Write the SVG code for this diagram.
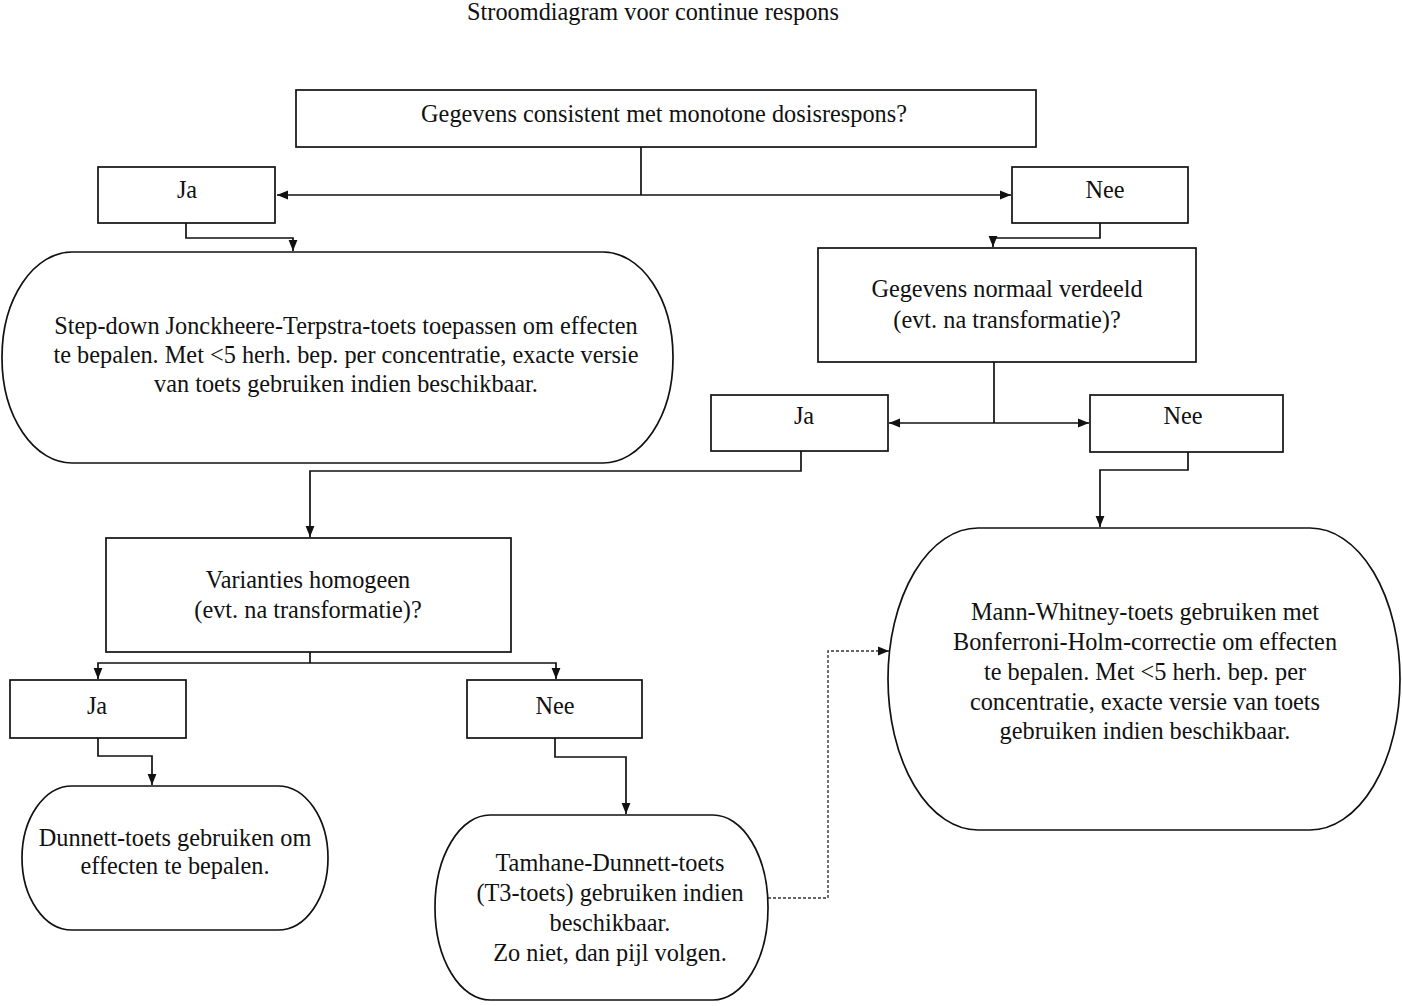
<svg xmlns="http://www.w3.org/2000/svg" width="1402" height="1006" viewBox="0 0 1402 1006">
<style>
text{font-family:"Liberation Serif","Times New Roman",serif;font-size:24.3px;fill:#111;text-anchor:middle}
.box{fill:#fff;stroke:#111;stroke-width:1.7}
.c{fill:none;stroke:#111;stroke-width:1.7}
.d{fill:none;stroke:#333;stroke-width:1.4;stroke-dasharray:3 2}
</style>
<defs>
<marker id="a" viewBox="0 0 10 10" refX="10" refY="5" markerWidth="11" markerHeight="11" markerUnits="userSpaceOnUse" orient="auto">
<path d="M0,1 L10,5 L0,9 z" fill="#111"/>
</marker>
</defs>
<rect width="1402" height="1006" fill="#fff"/>
<text x="653" y="20">Stroomdiagram voor continue respons</text>
<g id="connectors">
<path class="c" d="M641,147 V195"/>
<path class="c" d="M641,195 H277" marker-end="url(#a)"/>
<path class="c" d="M641,195 H1011" marker-end="url(#a)"/>
<path class="c" d="M186,223 V238 H293 V251" marker-end="url(#a)"/>
<path class="c" d="M1100,223 V238 H993 V247" marker-end="url(#a)"/>
<path class="c" d="M994,362 V423"/>
<path class="c" d="M994,423 H889" marker-end="url(#a)"/>
<path class="c" d="M994,423 H1089" marker-end="url(#a)"/>
<path class="c" d="M801,451 V471 H310 V537" marker-end="url(#a)"/>
<path class="c" d="M310,652 V663"/>
<path class="c" d="M310,663 H98 V679" marker-end="url(#a)"/>
<path class="c" d="M310,663 H556 V679" marker-end="url(#a)"/>
<path class="c" d="M98,738 V756 H152 V785" marker-end="url(#a)"/>
<path class="c" d="M555,738 V757 H626 V814" marker-end="url(#a)"/>
<path class="c" d="M1188,452 V470 H1100 V527" marker-end="url(#a)"/>
<path class="d" d="M768,898 H828 V651 H889" marker-end="url(#a)"/>
</g>
<g id="n1"><rect class="box" x="296" y="90" width="740" height="57"/><text x="664" y="122">Gegevens consistent met monotone dosisrespons?</text></g>
<g id="n2"><rect class="box" x="98" y="167" width="177" height="56"/><text x="187" y="198">Ja</text></g>
<g id="n3"><rect class="box" x="1012" y="167" width="176" height="56"/><text x="1105" y="198">Nee</text></g>
<g id="n4"><rect class="box" x="2" y="252" width="671" height="211" rx="70" ry="105"/>
<text x="346" y="334">Step-down Jonckheere-Terpstra-toets toepassen om effecten</text>
<text x="346" y="363">te bepalen. Met &lt;5 herh. bep. per concentratie, exacte versie</text>
<text x="346" y="392">van toets gebruiken indien beschikbaar.</text></g>
<g id="n5"><rect class="box" x="818" y="248" width="378" height="114"/>
<text x="1007" y="297">Gegevens normaal verdeeld</text>
<text x="1007" y="328">(evt. na transformatie)?</text></g>
<g id="n6"><rect class="box" x="711" y="395" width="177" height="56"/><text x="804" y="424">Ja</text></g>
<g id="n7"><rect class="box" x="1090" y="395" width="193" height="57"/><text x="1183" y="424">Nee</text></g>
<g id="n8"><rect class="box" x="106" y="538" width="405" height="114"/>
<text x="308" y="588">Varianties homogeen</text>
<text x="308" y="618">(evt. na transformatie)?</text></g>
<g id="n9"><rect class="box" x="10" y="680" width="176" height="58"/><text x="97" y="714">Ja</text></g>
<g id="n10"><rect class="box" x="467" y="680" width="175" height="58"/><text x="555" y="714">Nee</text></g>
<g id="n11"><rect class="box" x="22" y="786" width="306" height="144" rx="50" ry="72"/>
<text x="175" y="846">Dunnett-toets gebruiken om</text>
<text x="175" y="874">effecten te bepalen.</text></g>
<g id="n12"><rect class="box" x="435" y="815" width="333" height="185" rx="55" ry="92"/>
<text x="610" y="871">Tamhane-Dunnett-toets</text>
<text x="610" y="901">(T3-toets) gebruiken indien</text>
<text x="610" y="931">beschikbaar.</text>
<text x="610" y="961">Zo niet, dan pijl volgen.</text></g>
<g id="n13"><rect class="box" x="888" y="528" width="512" height="302" rx="90" ry="151"/>
<text x="1145" y="620">Mann-Whitney-toets gebruiken met</text>
<text x="1145" y="650">Bonferroni-Holm-correctie om effecten</text>
<text x="1145" y="680">te bepalen. Met &lt;5 herh. bep. per</text>
<text x="1145" y="710">concentratie, exacte versie van toets</text>
<text x="1145" y="739">gebruiken indien beschikbaar.</text></g>
</svg>
